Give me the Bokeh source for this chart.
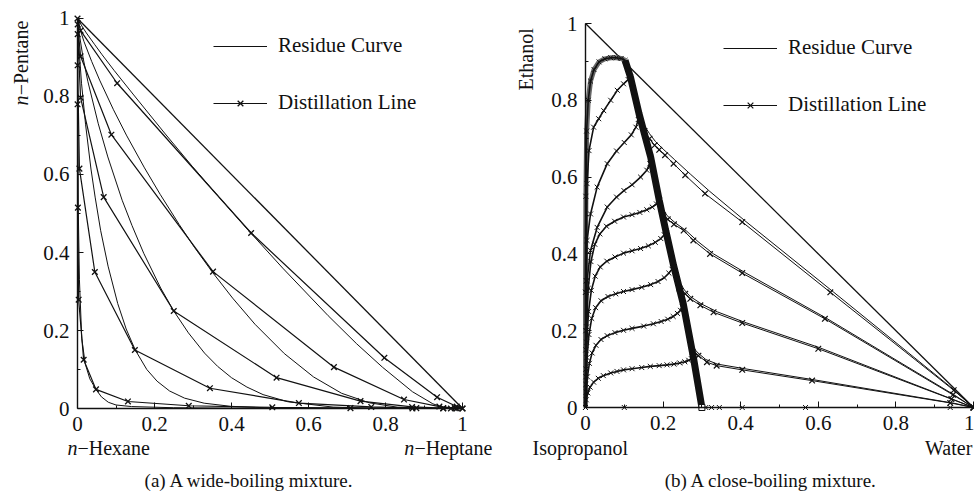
from bokeh.plotting import figure
from bokeh.models import (Range1d, FixedTicker, CustomJSTickFormatter, Label,
                          Legend, LegendItem, ColumnDataSource)
from bokeh.layouts import row
from bokeh.embed import file_html
from bokeh.resources import INLINE
import math

FONT = "Liberation Serif"
INK = "#111111"

# ---------------- shared axis ticks ----------------
major_ticks = [0, 0.2, 0.4, 0.6, 0.8, 1.0]
minor_ticks = [0.1, 0.3, 0.5, 0.7, 0.9]

# simplex edge (hypotenuse)
edge_x = [0.0, 1.0]
edge_y = [1.0, 0.0]

# ---------------- (a) wide-boiling: residue curves ----------------
wa_res_x = [0.0, 0.013, 0.023, 0.044, 0.064, 0.095, 0.146, 0.228, 0.298, 0.356, 0.45, 0.533, 0.651, 0.725, 0.792, 0.87, 0.923, 0.949, 0.98, 1.0]
wa_res_y = [1.0, 0.978, 0.963, 0.934, 0.907, 0.867, 0.804, 0.704, 0.621, 0.555, 0.45, 0.36, 0.238, 0.166, 0.106, 0.043, 0.012, 0.0035, 0.0005, 0.0]
wb_res_x = [0.0, 0.0087, 0.0168, 0.0368, 0.0575, 0.0935, 0.127, 0.174, 0.2148, 0.264, 0.304, 0.35, 0.403, 0.461, 0.537, 0.613, 0.686, 0.758, 0.83, 0.909, 1.0]
wb_res_y = [1.0, 0.966, 0.941, 0.89, 0.842, 0.766, 0.701, 0.617, 0.549, 0.472, 0.413, 0.35, 0.283, 0.216, 0.141, 0.081, 0.039, 0.0146, 0.0035, 0.0003, 0.0]
wc_res_x = [0.0, 0.0023, 0.0145, 0.0268, 0.054, 0.0788, 0.116, 0.1416, 0.172, 0.216, 0.25, 0.288, 0.33, 0.364, 0.40, 0.44, 0.482, 0.546, 0.664, 0.769, 1.0]
wc_res_y = [1.0, 0.975, 0.899, 0.839, 0.730, 0.645, 0.534, 0.469, 0.398, 0.309, 0.25, 0.194, 0.142, 0.108, 0.079, 0.055, 0.0356, 0.0174, 0.0036, 0.0006, 0.0]
wd_res_x = [0.0, 0.0017, 0.0104, 0.0209, 0.035, 0.0458, 0.060, 0.0794, 0.1045, 0.1264, 0.15, 0.18, 0.2067, 0.239, 0.278, 0.329, 0.398, 0.499, 1.0]
wd_res_y = [1.0, 0.955, 0.834, 0.729, 0.614, 0.542, 0.457, 0.365, 0.269, 0.204, 0.15, 0.10, 0.070, 0.045, 0.0266, 0.0136, 0.0056, 0.0015, 0.0]
we_res_x = [0.0, 0.0005, 0.002, 0.005, 0.011, 0.02, 0.032, 0.048, 0.062, 0.08, 0.1, 0.14, 0.25, 0.5, 1.0]
we_res_y = [1.0, 0.8, 0.51, 0.33, 0.18, 0.115, 0.076, 0.049, 0.03, 0.016, 0.009, 0.005, 0.002, 0.0003, 0.0]

# ---------------- (a) wide-boiling: distillation lines (stage points) ----------------
wa_dl_x = [0.0, 0.008, 0.103, 0.451, 0.797, 0.934, 0.985, 1.0]
wa_dl_y = [1.0, 0.969, 0.834, 0.45, 0.130, 0.029, 0.005, 0.0]
wb_dl_x = [0.0005, 0.008, 0.088, 0.352, 0.666, 0.848, 0.94, 0.98, 1.0]
wb_dl_y = [0.985, 0.903, 0.702, 0.351, 0.106, 0.023, 0.005, 0.001, 0.0]
wc_dl_x = [0.0005, 0.008, 0.068, 0.25, 0.517, 0.735, 0.869, 0.95, 0.985]
wc_dl_y = [0.96, 0.797, 0.542, 0.25, 0.079, 0.019, 0.004, 0.001, 0.0]
wd_dl_x = [0.0003, 0.005, 0.045, 0.149, 0.344, 0.575, 0.763, 0.88, 0.95]
wd_dl_y = [0.88, 0.615, 0.35, 0.15, 0.052, 0.014, 0.004, 0.001, 0.0]
we_dl_x = [0.0002, 0.001, 0.003, 0.016, 0.048, 0.131, 0.289, 0.506, 0.709, 0.87, 0.97]
we_dl_y = [0.78, 0.515, 0.279, 0.125, 0.049, 0.018, 0.007, 0.003, 0.001, 0.0, 0.0]

# ---------------- (b) close-boiling ----------------
# distillation boundary (dense crowd of stages)
cb_bound_x = [0.102, 0.116, 0.138, 0.168, 0.19, 0.207, 0.227, 0.252, 0.278, 0.300]
cb_bound_y = [0.904, 0.86, 0.765, 0.652, 0.54, 0.46, 0.37, 0.27, 0.131, 0.0]

# left region (towards isopropanol)
cl1_x = [0.0, 0.002, 0.006, 0.012, 0.021, 0.033, 0.046, 0.065, 0.081, 0.098, 0.12, 0.145, 0.167, 0.19, 0.21, 0.228, 0.243, 0.256, 0.266, 0.273, 0.278]
cl1_y = [0.0, 0.02, 0.038, 0.053, 0.066, 0.076, 0.083, 0.09, 0.094, 0.098, 0.101, 0.104, 0.107, 0.109, 0.111, 0.113, 0.116, 0.119, 0.123, 0.127, 0.131]
cl2_x = [0.0, 0.002, 0.005, 0.01, 0.017, 0.027, 0.04, 0.056, 0.076, 0.098, 0.12, 0.15, 0.175, 0.195, 0.212, 0.226, 0.237, 0.245, 0.25, 0.252]
cl2_y = [0.0, 0.04, 0.08, 0.115, 0.142, 0.162, 0.177, 0.187, 0.195, 0.201, 0.206, 0.212, 0.218, 0.224, 0.23, 0.237, 0.245, 0.253, 0.262, 0.27]
cl3_x = [0.0, 0.001, 0.004, 0.009, 0.016, 0.026, 0.04, 0.058, 0.078, 0.098, 0.12, 0.145, 0.168, 0.187, 0.203, 0.215, 0.223, 0.227]
cl3_y = [0.0, 0.06, 0.13, 0.19, 0.232, 0.26, 0.278, 0.289, 0.296, 0.302, 0.307, 0.313, 0.32, 0.328, 0.338, 0.35, 0.36, 0.37]
cl4_x = [0.0, 0.001, 0.003, 0.008, 0.015, 0.025, 0.038, 0.055, 0.076, 0.098, 0.12, 0.142, 0.162, 0.18, 0.194, 0.203, 0.207]
cl4_y = [0.0, 0.08, 0.17, 0.25, 0.305, 0.342, 0.366, 0.381, 0.392, 0.402, 0.408, 0.414, 0.421, 0.43, 0.44, 0.45, 0.46]
cl5_x = [0.0, 0.001, 0.003, 0.007, 0.014, 0.024, 0.037, 0.054, 0.075, 0.098, 0.12, 0.14, 0.158, 0.172, 0.183, 0.19]
cl5_y = [0.0, 0.1, 0.21, 0.31, 0.38, 0.425, 0.452, 0.472, 0.485, 0.496, 0.502, 0.508, 0.515, 0.522, 0.53, 0.54]
cl6_x = [0.0, 0.001, 0.004, 0.013, 0.03, 0.056, 0.08, 0.099, 0.12, 0.142, 0.158, 0.166, 0.168]
cl6_y = [0.0, 0.15, 0.33, 0.409, 0.469, 0.522, 0.548, 0.565, 0.58, 0.60, 0.618, 0.635, 0.652]
cl7_x = [0.0, 0.001, 0.002, 0.004, 0.013, 0.03, 0.056, 0.08, 0.1, 0.118, 0.13, 0.136, 0.138]
cl7_y = [0.0, 0.2, 0.33, 0.435, 0.504, 0.574, 0.635, 0.668, 0.69, 0.71, 0.73, 0.75, 0.765]
cl8_x = [0.0, 0.001, 0.004, 0.009, 0.021, 0.034, 0.047, 0.065, 0.082, 0.098, 0.11, 0.116]
cl8_y = [0.0, 0.3, 0.583, 0.669, 0.73, 0.752, 0.773, 0.8, 0.826, 0.843, 0.854, 0.86]
cl9_x = [0.0, 0.0, 0.001, 0.003, 0.007, 0.013, 0.022, 0.035, 0.05, 0.065, 0.08, 0.092, 0.102]
cl9_y = [0.0, 0.3, 0.55, 0.72, 0.8, 0.85, 0.88, 0.9, 0.908, 0.911, 0.911, 0.909, 0.904]

# right region (towards water): distillation lines
cr1_x = [0.152, 0.165, 0.178, 0.19, 0.205, 0.227, 0.257, 0.308, 0.404, 0.631, 0.949, 1.0]
cr1_y = [0.72, 0.70, 0.683, 0.671, 0.657, 0.635, 0.605, 0.557, 0.483, 0.300, 0.045, 0.0]
cr2_x = [0.2, 0.212, 0.228, 0.253, 0.278, 0.321, 0.404, 0.617, 0.947, 1.0]
cr2_y = [0.50, 0.49, 0.477, 0.461, 0.435, 0.40, 0.350, 0.231, 0.033, 0.0]
cr3_x = [0.242, 0.257, 0.27, 0.296, 0.33, 0.404, 0.600, 0.943, 1.0]
cr3_y = [0.31, 0.296, 0.283, 0.266, 0.248, 0.220, 0.153, 0.022, 0.0]
cr4_x = [0.276, 0.291, 0.313, 0.338, 0.404, 0.584, 0.94, 1.0]
cr4_y = [0.145, 0.135, 0.118, 0.109, 0.098, 0.070, 0.012, 0.0]
# right region: residue curves
rr1_x = [0.148, 0.165, 0.18, 0.2, 0.23, 0.27, 0.32, 0.41, 0.64, 0.95, 1.0]
rr1_y = [0.74, 0.713, 0.693, 0.673, 0.645, 0.608, 0.563, 0.487, 0.300, 0.046, 0.0]
rr2_x = [0.198, 0.21, 0.23, 0.26, 0.29, 0.33, 0.41, 0.62, 0.95, 1.0]
rr2_y = [0.52, 0.5, 0.482, 0.46, 0.432, 0.400, 0.352, 0.233, 0.033, 0.0]
rr3_x = [0.24, 0.255, 0.27, 0.3, 0.34, 0.41, 0.60, 0.95, 1.0]
rr3_y = [0.33, 0.306, 0.289, 0.269, 0.249, 0.222, 0.157, 0.020, 0.0]
rr4_x = [0.274, 0.29, 0.31, 0.34, 0.41, 0.59, 0.95, 1.0]
rr4_y = [0.16, 0.142, 0.125, 0.113, 0.101, 0.072, 0.011, 0.0]
# stage points lying on the binary edge
cb_edge_x = [0.1, 0.31, 0.325, 0.345, 0.404, 0.567, 0.94]
cb_edge_y = [0.0, 0.0, 0.0, 0.0, 0.0, 0.0, 0.0]
# isopropanol-water azeotrope
azeo_x = [0.3]
azeo_y = [0.0]


def base_fig(width, xr, yr):
    # the frame covers the whole canvas; the axes sit at x=0 / y=0 and span [0, 1]
    p = figure(width=width, height=492, x_range=Range1d(*xr), y_range=Range1d(*yr),
               output_backend="svg", toolbar_location=None,
               min_border=0, min_border_left=0, min_border_right=0,
               min_border_top=0, min_border_bottom=0)
    p.outline_line_color = None
    p.xgrid.visible = False
    p.ygrid.visible = False
    p.background_fill_color = "white"
    p.border_fill_color = "white"
    for ax in (p.xaxis[0], p.yaxis[0]):
        ax.fixed_location = 0
        ax.bounds = (0, 1)
        ax.ticker = FixedTicker(ticks=major_ticks, minor_ticks=minor_ticks)
        ax.formatter = CustomJSTickFormatter(code="return tick.toFixed(1).replace(/\\.0$/, '');")
        ax.major_label_text_font = FONT
        ax.major_label_text_font_size = "21px"
        ax.major_label_text_color = INK
        ax.axis_line_color = INK
        ax.axis_line_width = 1.4
        ax.major_tick_line_color = INK
        ax.minor_tick_line_color = INK
        ax.major_tick_in = 6
        ax.major_tick_out = 0
        ax.minor_tick_in = 3
        ax.minor_tick_out = 0
        ax.major_label_standoff = 8
    return p


def curve(p, xs, ys, lw=1.0, color=INK, marker=False, size=8, mlw=1.3):
    src = ColumnDataSource(dict(x=xs, y=ys))
    rl = p.line("x", "y", source=src, line_color=color, line_width=lw)
    rm = None
    if marker:
        rm = p.scatter("x", "y", source=src, marker="x", size=size, line_color=color, line_width=mlw)
    return rl, rm


def label(p, x, y, text, angle=0.0, italic=False, align="left", size="20px"):
    p.add_layout(Label(x=x, y=y, text=text, angle=angle, text_font=FONT, text_font_size=size,
                       text_font_style="italic" if italic else "normal",
                       text_align=align, text_baseline="middle", text_color=INK))


def legend(p, loc, res_r, dl_rs):
    lg = Legend(items=[LegendItem(label="Residue Curve", renderers=[res_r]),
                       LegendItem(label="Distillation Line", renderers=dl_rs)],
                location=loc, border_line_color=None, background_fill_alpha=0,
                padding=0, margin=0, spacing=32, glyph_width=54, glyph_height=20,
                label_height=20, label_standoff=11,
                label_text_font=FONT, label_text_font_size="21px", label_text_color=INK)
    p.add_layout(lg)


# ---------------- panel (a) ----------------
p1 = base_fig(508, (-0.2, 1.11948), (-0.21538, 1.04615))
curve(p1, edge_x, edge_y, lw=1.3)
res_first = None
for xs, ys in [(wa_res_x, wa_res_y), (wb_res_x, wb_res_y), (wc_res_x, wc_res_y),
               (wd_res_x, wd_res_y), (we_res_x, we_res_y)]:
    rl, _ = curve(p1, xs, ys, lw=1.0)
    res_first = res_first or rl
dl_first = None
for xs, ys in [(wa_dl_x, wa_dl_y), (wb_dl_x, wb_dl_y), (wc_dl_x, wc_dl_y),
               (wd_dl_x, wd_dl_y), (we_dl_x, we_dl_y)]:
    rl, rm = curve(p1, xs, ys, lw=1.2, marker=True, size=8)
    dl_first = dl_first or [rl, rm]
legend(p1, (213, 377), res_first, dl_first)
label(p1, -0.026, -0.10, "n", italic=True)
label(p1, 0.0, -0.10, "\u2212Hexane")
label(p1, 0.849, -0.10, "n", italic=True)
label(p1, 0.875, -0.10, "\u2212Heptane")
label(p1, -0.148, 0.777, "n", angle=math.pi / 2, italic=True)
label(p1, -0.148, 0.803, "\u2212Pentane", angle=math.pi / 2)
label(p1, 0.447, -0.1846, "(a) A wide-boiling mixture.", align="center", size="19px")

# ---------------- panel (b) ----------------
p2 = base_fig(466, (-0.19845, 1.00258), (-0.22135, 1.0599))
curve(p2, edge_x, edge_y, lw=1.3)
res_first = None
for xs, ys in [(rr1_x, rr1_y), (rr2_x, rr2_y), (rr3_x, rr3_y), (rr4_x, rr4_y)]:
    rl, _ = curve(p2, xs, ys, lw=1.0)
    res_first = res_first or rl
curve(p2, cl9_x, cl9_y, lw=5, color="#666666")
for xs, ys in [(cl1_x, cl1_y), (cl2_x, cl2_y), (cl3_x, cl3_y), (cl4_x, cl4_y), (cl5_x, cl5_y),
               (cl6_x, cl6_y), (cl7_x, cl7_y), (cl8_x, cl8_y), (cl9_x, cl9_y)]:
    curve(p2, xs, ys, lw=1.6, marker=True, size=7, mlw=1.0)
dl_first = None
for xs, ys in [(cr1_x, cr1_y), (cr2_x, cr2_y), (cr3_x, cr3_y), (cr4_x, cr4_y)]:
    rl, rm = curve(p2, xs, ys, lw=1.0, marker=True, size=8, mlw=1.2)
    dl_first = dl_first or [rl, rm]
curve(p2, cb_bound_x, cb_bound_y, lw=7)
p2.scatter(cb_edge_x, cb_edge_y, marker="x", size=7, line_color=INK, line_width=1.0)
p2.scatter(azeo_x, azeo_y, marker="square", size=6, line_color=INK, fill_color="white", line_width=1.0)
legend(p2, (215, 375), res_first, dl_first)
label(p2, -0.1366, -0.1042, "Isopropanol")
label(p2, 0.997, -0.1042, "Water", align="right")
label(p2, -0.1546, 0.8255, "Ethanol", angle=math.pi / 2)
label(p2, 0.479, -0.190, "(b) A close-boiling mixture.", align="center", size="19px")

layout = row(p1, p2)
open("out.html", "w").write(file_html(layout, INLINE))
